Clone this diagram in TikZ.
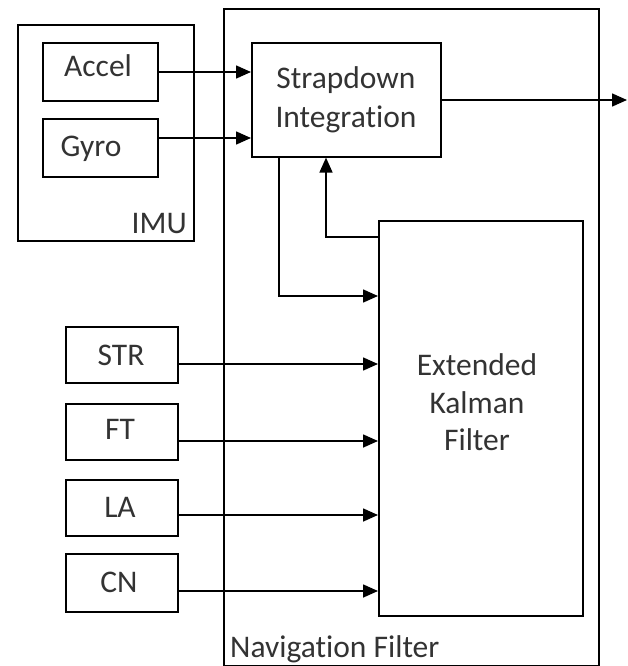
\documentclass[tikz,border=0pt]{standalone}
\usepackage{fontspec}
\setmainfont{Carlito}[Ligatures={NoCommon}]
\usetikzlibrary{arrows.meta}
\begin{document}
\begin{tikzpicture}[x=1pt,y=-1pt,
  box/.style={draw=black, line width=1.6pt, inner sep=0pt, anchor=north west},
  txt/.style={text=black!80, font=\fontsize{31.5}{37}\selectfont, inner sep=0pt, anchor=base},
  arr/.style={draw=black, line width=1.6pt, -{Triangle[length=15pt,width=13pt]}}]
\useasboundingbox (0,0) rectangle (627,666);
% boxes
\node[box, minimum width=375pt, minimum height=657pt] (nav) at (223,8) {};
\node[box, minimum width=176pt, minimum height=216pt] (imu) at (17,24) {};
\node[box, minimum width=115pt, minimum height=58pt] (accel) at (42,42) {};
\node[box, minimum width=115pt, minimum height=58pt] (gyro) at (42,118) {};
\node[box, minimum width=189pt, minimum height=114pt] (sd) at (251,42) {};
\node[box, minimum width=204pt, minimum height=395pt] (ekf) at (378,220) {};
\node[box, minimum width=112pt, minimum height=56pt] (str) at (65,326) {};
\node[box, minimum width=112pt, minimum height=56pt] (ft) at (65,403) {};
\node[box, minimum width=112pt, minimum height=56pt] (la) at (65,479) {};
\node[box, minimum width=112pt, minimum height=58pt] (cn) at (65,553) {};
% texts
\node[txt] (tAccel) at (98,77) {Accel};
\node[txt] (tGyro) at (91,156) {Gyro};
\node[txt, anchor=base east] (tImu) at (187,233) {IMU};
\node[txt] (tSd1) at (346,89) {Strapdown};
\node[txt] (tSd2) at (346,128) {Integration};
\node[txt] (tE1) at (477,375) {Extended};
\node[txt] (tE2) at (477,413) {Kalman};
\node[txt] (tE3) at (477,450) {Filter};
\node[txt] (tStr) at (121,365) {STR};
\node[txt] (tFt) at (120,439) {FT};
\node[txt] (tLa) at (120,517) {LA};
\node[txt] (tCn) at (119,592) {CN};
\node[txt, anchor=base west] (tNav) at (230,657) {Navigation Filter};
% helper coordinates
\coordinate (yAcc) at (0,72);
\coordinate (yGyr) at (0,138);
\coordinate (yOut) at (0,100);
\coordinate (out) at (627,100);
\coordinate (yFb) at (0,237);
\coordinate (xFb) at (326,0);
\coordinate (xSd) at (279,0);
\coordinate (yIn) at (0,296);
\coordinate (yStr) at (0,364);
\coordinate (yFt) at (0,441);
\coordinate (yLa) at (0,515);
\coordinate (yCn) at (0,591);
% connectors
\draw[arr] (accel.east |- yAcc) -- (sd.west |- yAcc);
\draw[arr] (gyro.east |- yGyr) -- (sd.west |- yGyr);
\draw[arr] (sd.east |- yOut) -- (out);
\draw[arr] (ekf.west |- yFb) -| (sd.south -| xFb);
\draw[arr] (sd.south -| xSd) |- (ekf.west |- yIn);
\draw[arr] (str.east |- yStr) -- (ekf.west |- yStr);
\draw[arr] (ft.east |- yFt) -- (ekf.west |- yFt);
\draw[arr] (la.east |- yLa) -- (ekf.west |- yLa);
\draw[arr] (cn.east |- yCn) -- (ekf.west |- yCn);
\end{tikzpicture}
\end{document}
